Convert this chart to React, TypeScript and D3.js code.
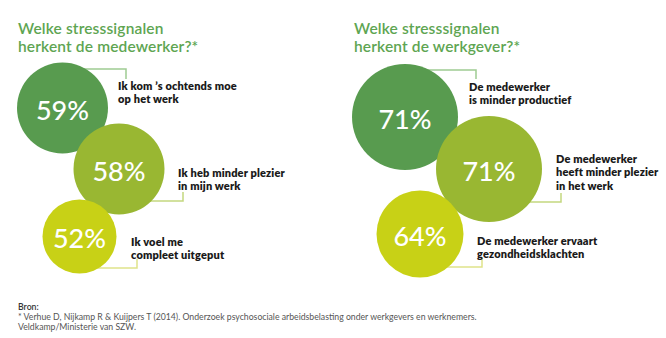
import React from "react";
import * as d3 from "d3";

const panelTitles = [
  ["Welke stresssignalen", "herkent de medewerker?*"],
  ["Welke stresssignalen", "herkent de werkgever?*"],
];
const leftValues = [59, 58, 52];
const leftLabels = [
  ["Ik kom \u2019s ochtends moe", "op het werk"],
  ["Ik heb minder plezier", "in mijn werk"],
  ["Ik voel me", "compleet uitgeput"],
];
const rightValues = [71, 71, 64];
const rightLabels = [
  ["De medewerker", "is minder productief"],
  ["De medewerker", "heeft minder plezier", "in het werk"],
  ["De medewerker ervaart", "gezondheidsklachten"],
];
const footnotes = [
  "Bron:",
  "* Verhue D, Nijkamp R & Kuijpers T (2014). Onderzoek psychosociale arbeidsbelasting onder werkgevers en werknemers.",
  "Veldkamp/Ministerie van SZW.",
];

const fills = ["#589b4f", "#99b732", "#c8d116"];
const lineColors = ["#9fcb92", "#c3d77f", "#dfe38a"];

// layout per panel (positions only)
const layouts = [
  {
    titleX: 18,
    circles: [
      { cx: 62.5, cy: 108, r: 45.5, tx: 118, ty: 85, lineY: 69, lineX: 126, lineEnd: 79 },
      { cx: 119, cy: 169, r: 45.5, tx: 178, ty: 172, lineY: 201, lineX: 183, lineEnd: 192 },
      { cx: 79.5, cy: 236.5, r: 37, tx: 131, ty: 241, lineY: 268, lineX: 137, lineEnd: 259 },
    ],
  },
  {
    titleX: 354,
    circles: [
      { cx: 405, cy: 117, r: 53, tx: 469, ty: 86, lineY: 70, lineX: 476, lineEnd: 79 },
      { cx: 489, cy: 169, r: 53, tx: 556, ty: 158, lineY: 202, lineX: 561, lineEnd: 193 },
      { cx: 420, cy: 234, r: 43.5, tx: 477, ty: 240, lineY: 267, lineX: 482, lineEnd: 258 },
    ],
  },
];

const fmt = (v: number) => d3.format("d")(v) + "%";

function Panel({ idx, values, labels }: { idx: number; values: number[]; labels: string[][] }) {
  const L = layouts[idx];
  const colorScale = d3.scaleOrdinal<number, string>().domain([0, 1, 2]).range(fills);
  const lineScale = d3.scaleOrdinal<number, string>().domain([0, 1, 2]).range(lineColors);
  return (
    <g>
      {panelTitles[idx].map((t, i) => (
        <text
          key={i}
          x={L.titleX}
          y={28 + i * 18}
          dominantBaseline="central"
          fontFamily="Lato, 'Open Sans', sans-serif"
          fontWeight={600}
          fontSize={15.5}
          letterSpacing={0.15}
          fill="#5ea552"
        >
          {t}
        </text>
      ))}
      {values.map((v, i) => {
        const c = L.circles[i];
        const path = d3.path();
        path.moveTo(c.cx, c.lineY);
        path.lineTo(c.lineX, c.lineY);
        path.lineTo(c.lineX, c.lineEnd);
        return (
          <path key={"l" + i} d={path.toString()} fill="none" stroke={lineScale(i)} strokeWidth={1.5} />
        );
      })}
      {values.map((v, i) => {
        const c = L.circles[i];
        return <circle key={"c" + i} cx={c.cx} cy={c.cy} r={c.r} fill={colorScale(i)} />;
      })}
      {values.map((v, i) => {
        const c = L.circles[i];
        return (
          <text
            key={"v" + i}
            x={c.cx}
            y={c.cy + 1}
            textAnchor="middle"
            dominantBaseline="central"
            fontFamily="Lato, 'Open Sans', sans-serif"
            fontWeight={500}
            fontSize={27}
            fill="#ffffff"
          >
            {fmt(v)}
          </text>
        );
      })}
      {labels.map((lines, i) => {
        const c = L.circles[i];
        return lines.map((t, j) => (
          <text
            key={"t" + i + "-" + j}
            x={c.tx}
            y={c.ty + j * 13.5}
            dominantBaseline="central"
            fontFamily="Lato, 'Open Sans', sans-serif"
            fontWeight={800}
            fontSize={11}
            letterSpacing={0.15}
            fill="#1a1a1a"
          >
            {t}
          </text>
        ));
      })}
    </g>
  );
}

export default function App() {
  return (
    <svg width={666} height={338} style={{ position: "absolute", left: 0, top: 0, background: "#fff" }}>
      <rect width={666} height={338} fill="#ffffff" />
      <Panel idx={0} values={leftValues} labels={leftLabels} />
      <Panel idx={1} values={rightValues} labels={rightLabels} />
      {footnotes.map((t, i) => (
        <text
          key={i}
          x={18}
          y={306 + i * 10}
          dominantBaseline="central"
          fontFamily="Lato, 'Open Sans', sans-serif"
          fontWeight={i === 0 ? 600 : 400}
          fontSize={8.7}
          fill={i === 0 ? "#333" : "#555"}
        >
          {t}
        </text>
      ))}
    </svg>
  );
}
